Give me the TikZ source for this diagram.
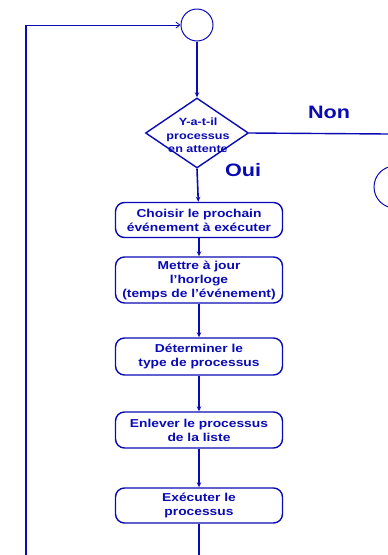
\documentclass[tikz,border=0pt]{standalone}
\usepackage{fontspec}
\setsansfont[FakeStretch=1.2]{Liberation Sans}
\usetikzlibrary{shapes.geometric,arrows.meta}
\definecolor{fc}{RGB}{10,10,180}
\begin{document}
\begin{tikzpicture}[x=1pt,y=-1pt,
  every node/.style={text=fc, font=\sffamily\bfseries},
  procbox/.style={draw=fc, line width=1.4pt, rounded corners=9pt, minimum width=167pt, align=center, inner sep=1pt, font=\sffamily\bfseries\fontsize{11.5}{14}\selectfont},
  conn/.style={draw=fc, line width=1.6pt, -{Stealth[length=5pt,width=4.5pt]}},
  plainconn/.style={draw=fc, line width=1.6pt},
  lbl/.style={font=\sffamily\bfseries\fontsize{18}{20}\selectfont}]
\useasboundingbox (0,0) rectangle (388,555);
\node[draw=fc, circle, line width=1pt, minimum size=32pt, inner sep=0pt] (c0) at (197,25) {};
\node[draw=fc, diamond, line width=1.4pt, minimum width=103pt, minimum height=70pt, inner sep=0pt, aspect=1.47] (d) at (197,133) {};
\node[align=center, font=\sffamily\bfseries\fontsize{10.5}{13.5}\selectfont] (dt) at (198,135.5) {Y-a-t-il\\processus\\en attente};
\node[procbox, minimum height=35pt] (b1) at (199,220) {Choisir le prochain\\événement à exécuter};
\node[procbox, minimum height=46pt] (b2) at (199,280) {Mettre à jour\\l'horloge\\(temps de l'événement)};
\node[procbox, minimum height=37pt] (b3) at (199,356.5) {Déterminer le\\type de processus};
\node[procbox, minimum height=36pt] (b4) at (199,430) {Enlever le processus\\de la liste};
\node[procbox, minimum height=35pt] (b5) at (199,505.5) {Exécuter le\\processus};
\node[lbl] (non) at (329,112) {Non};
\node[lbl] (oui) at (243,170) {Oui};
\node[draw=fc, circle, line width=1pt, minimum size=42pt, inner sep=0pt] (c1) at (395,187) {};
\coordinate (e1) at (388,134);
\coordinate (bot) at (199,555);
\coordinate (lb) at (26,555);
\draw[conn] (c0) -- (d.north);
\draw[conn] (d.south) -- (b1);
\draw[conn] (b1) -- (b2);
\draw[conn] (b2) -- (b3);
\draw[conn] (b3) -- (b4);
\draw[conn] (b4) -- (b5);
\draw[plainconn] (b5) -- (bot);
\draw[draw=fc, line width=1.4pt] (d.east) -- (e1);
\draw[draw=fc, line width=1.6pt] (lb) -- (26,25);
\draw[draw=fc, line width=0.8pt, -{Straight Barb[length=4pt,width=6pt]}] (26,25) -- (c0.west);
\end{tikzpicture}
\end{document}
